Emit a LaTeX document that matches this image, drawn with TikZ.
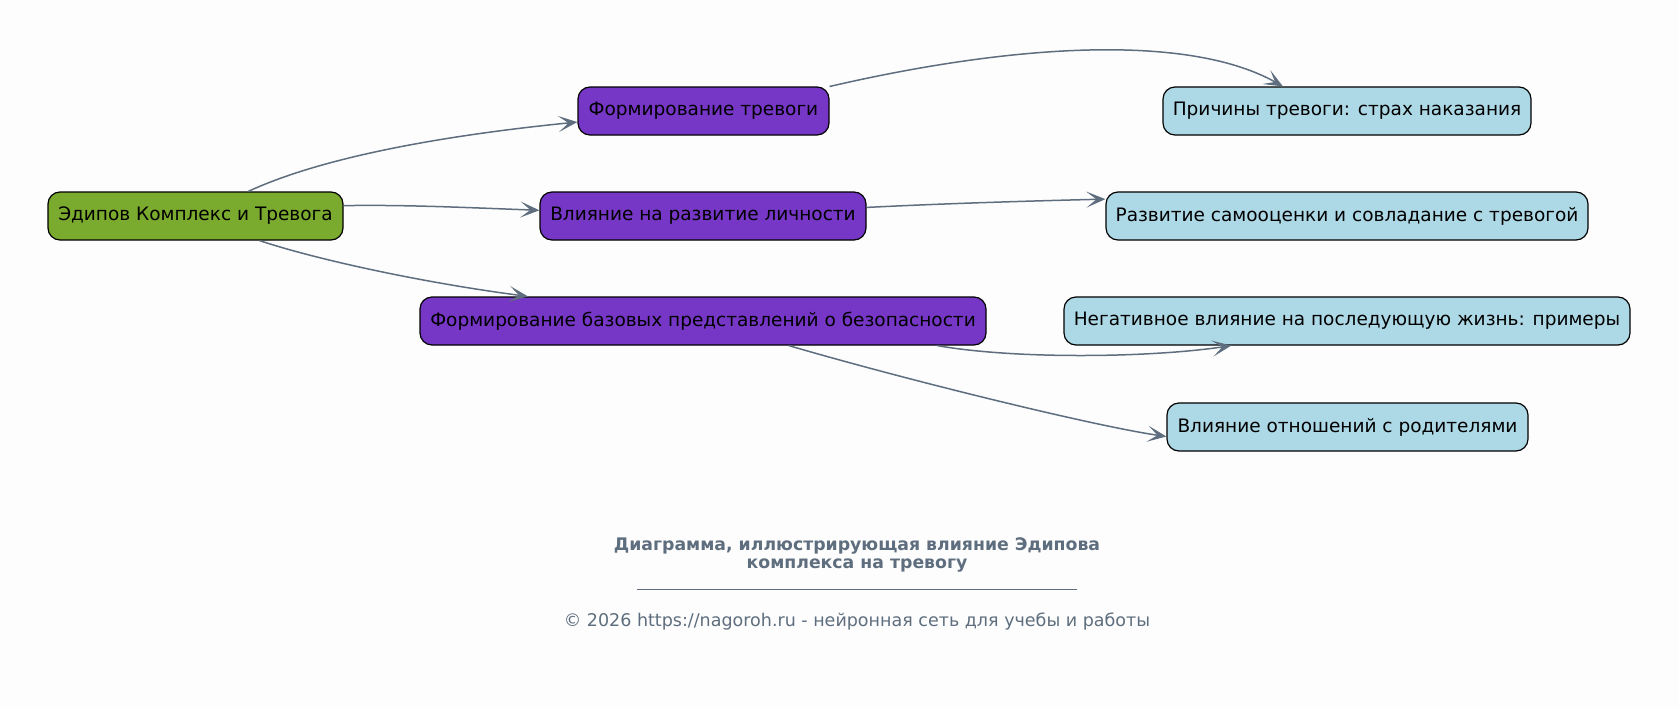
\documentclass[tikz,border=0pt]{standalone}
\usepackage{fontspec}
\setmainfont{DejaVu Sans}
\usetikzlibrary{arrows.meta}
\definecolor{bg}{HTML}{FDFDFD}
\definecolor{rootgreen}{HTML}{7AAA2E}
\definecolor{midpurple}{HTML}{7636C6}
\definecolor{leafblue}{HTML}{ADD8E6}
\definecolor{edgegray}{HTML}{5E6E7E}
\tikzset{
  box/.style={draw=black, line width=1.2pt, rounded corners=12pt, minimum height=48pt,
    inner sep=0pt, font=\fontsize{18.5}{21}\selectfont, text=black},
  rootbox/.style={box, fill=rootgreen},
  midbox/.style={box, fill=midpurple},
  leafbox/.style={box, fill=leafblue},
  edge/.style={draw=edgegray, line width=1.5pt,
    -{Stealth[length=19pt, width=16pt, inset=10pt]}},
}
\begin{document}
\begin{tikzpicture}[x=1pt, y=-1pt]
\fill[bg] (0,0) rectangle (1679,707);
\useasboundingbox (0,0) rectangle (1679,707);

\node[rootbox, minimum width=295pt] (root) at (195.5,216) {Эдипов Комплекс и Тревога};
\node[midbox, minimum width=251pt] (ft) at (703.5,111) {Формирование тревоги};
\node[midbox, minimum width=326pt] (vr) at (703,216) {Влияние на развитие личности};
\node[midbox, minimum width=566pt] (fb) at (703,321) {Формирование базовых представлений о безопасности};
\node[leafbox, minimum width=368pt] (pr) at (1347,111) {Причины тревоги: страх наказания};
\node[leafbox, minimum width=482pt] (rz) at (1347,216) {Развитие самооценки и совладание с тревогой};
\node[leafbox, minimum width=566pt] (ng) at (1347,321) {Негативное влияние на последующую жизнь: примеры};
\node[leafbox, minimum width=361pt] (vo) at (1347.5,427) {Влияние отношений с родителями};

\path[edge] (root.25) .. controls +(80,-37) and +(-120,12) .. (ft.185);
\path[edge] (root.4) .. controls +(60,-1) and +(-80,-3) .. (vr.178);
\path[edge] (root.-21) .. controls +(60,20) and +(-100,-13) .. (fb.172);
\path[edge] (ft.11) .. controls +(190,-44) and +(-92,-52) .. (pr.159);
\path[edge] (vr.3) .. controls +(80,-4) and +(-80,2) .. (rz.176);
\path[edge] (fb.-6) .. controls +(80,14) and +(-80,12) .. (ng.192);
\path[edge] (fb.-16) .. controls +(120,35) and +(-70,-10) .. (vo.183);

\node[font=\bfseries\fontsize{17.3}{18.5}\selectfont, text=edgegray, align=center] (title) at (857,555)
  {Диаграмма, иллюстрирующая влияние Эдипова\\комплекса на тревогу};
\node[inner sep=0pt] (rule) at (857,589) {\textcolor{edgegray}{\rule{440pt}{1pt}}};
\node[font=\fontsize{17.5}{19}\selectfont, text=edgegray] (copy) at (857,622)
  {© 2026 https://nagoroh.ru - нейронная сеть для учебы и работы};
\end{tikzpicture}
\end{document}
